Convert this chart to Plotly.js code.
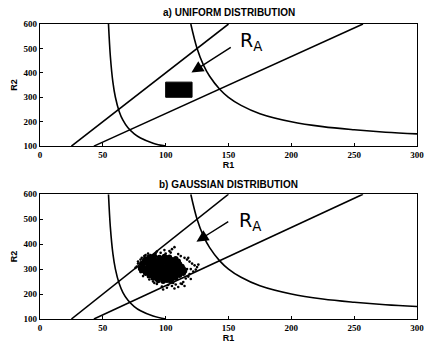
<!DOCTYPE html>
<html>
<head>
<meta charset="utf-8">
<script src="https://cdn.plot.ly/plotly-3.0.1.min.js"></script>
<style>html,body{margin:0;padding:0;background:#fff;}#chart{width:427px;height:343px;}</style>
</head>
<body>
<div id="chart"></div>
<script>
// Boundary lines (R2 = k*R1), endpoints
var line1R1 = [25, 150];
var line1R2 = [100, 600];
var line2R1 = [42.9, 257];
var line2R2 = [100, 600];

// Hyperbolic boundaries, points
var curve1R1 = [54.5, 56, 58, 60, 63, 66, 70, 75, 80, 90, 100];
var curve1R2 = [600, 467, 362, 300, 242, 206, 175, 150, 133, 112, 100];
var curve2R1 = [120, 125, 130, 135, 143, 150, 160, 175, 200, 225, 250, 275, 300];
var curve2R2 = [600, 500, 433, 386, 333, 300, 267, 233, 200, 180, 167, 157, 150];

// Uniform distribution region
var uniformR1 = [100, 121];
var uniformR2 = [300, 362];

// Gaussian distribution samples: dense core
var gaussCoreR1 = [
 87,91,95,99,103,
 84,88,91,95,98,101,105,108,
 83,86,89,93,96,100,103,106,110,
 81,85,88,91,94,97,101,104,107,111,
 82,86,89,92,95,98,101,104,107,110,113,
 80,84,87,90,93,96,99,102,105,108,111,114,
 81,85,88,91,94,97,100,103,106,109,112,115,
 84,87,90,93,96,99,102,105,108,111,114,
 87,90,93,96,99,102,105,108,111,
 90,93,96,99,102,105,108,
 94,98,101,104
];
var gaussCoreR2 = [
 348,351,346,350,347,
 340,343,338,342,339,344,337,341,
 332,329,334,330,333,328,332,329,331,
 322,325,320,324,321,326,322,319,324,320,
 314,311,316,312,315,310,314,311,316,312,310,
 304,301,306,302,305,300,304,301,305,302,306,301,
 294,291,296,292,295,290,294,291,296,292,295,292,
 284,281,286,282,285,280,284,281,286,282,283,
 274,271,276,272,275,270,274,271,275,
 264,261,266,262,265,260,264,
 254,251,255,252
];
// sparse outliers around the core
var gaussOuterR1 = [77,78,79,76,81,83,80,84,86,88,92,96,100,103,105,107,104,110,112,115,117,119,121,123,125,120,122,119,118,116,114,112,108,105,101,97,93,90,87,98,110,113,124,118,86,80,82,115,107,120,126,93,99,78,84,91,106,102,117];
var gaussOuterR2 = [310,322,298,305,345,352,288,278,268,356,362,365,362,372,380,388,366,360,352,345,338,330,322,315,308,300,290,280,270,262,248,242,238,232,225,230,240,250,258,218,228,240,298,345,362,338,272,232,222,260,318,370,376,330,356,244,244,236,300];

var xTicks = [0, 50, 100, 150, 200, 250, 300];
var yTicks = [100, 200, 300, 400, 500, 600];
var titles = ['a) UNIFORM DISTRIBUTION', 'b) GAUSSIAN DISTRIBUTION'];

var lineStyle = {color: '#000', width: 1.6};
function boundaryTraces(xa, ya) {
  return [
    {x: line1R1, y: line1R2, mode: 'lines', line: lineStyle, xaxis: xa, yaxis: ya},
    {x: line2R1, y: line2R2, mode: 'lines', line: lineStyle, xaxis: xa, yaxis: ya},
    {x: curve1R1, y: curve1R2, mode: 'lines', line: Object.assign({shape: 'spline'}, lineStyle), xaxis: xa, yaxis: ya},
    {x: curve2R1, y: curve2R2, mode: 'lines', line: Object.assign({shape: 'spline'}, lineStyle), xaxis: xa, yaxis: ya}
  ];
}

var rectX = [uniformR1[0], uniformR1[1], uniformR1[1], uniformR1[0], uniformR1[0]];
var rectY = [uniformR2[0], uniformR2[0], uniformR2[1], uniformR2[1], uniformR2[0]];

var data = boundaryTraces('x', 'y').concat([
  {x: rectX, y: rectY, mode: 'lines', fill: 'toself', fillcolor: '#000', line: {color: '#000', width: 1}, xaxis: 'x', yaxis: 'y'}
]).concat(boundaryTraces('x2', 'y2')).concat([
  {x: gaussCoreR1, y: gaussCoreR2, mode: 'markers', marker: {color: '#000', size: 5.5}, xaxis: 'x2', yaxis: 'y2'},
  {x: gaussOuterR1, y: gaussOuterR2, mode: 'markers', marker: {color: '#000', size: 2.6}, xaxis: 'x2', yaxis: 'y2'}
]);

var tickFont = {family: 'Liberation Serif, Times New Roman, serif', size: 9, color: '#000', weight: 'bold'};
var labFont = {family: 'Liberation Sans, Arial, sans-serif', size: 9, color: '#000', weight: 'bold'};
function xAx(anchor) {
  return {anchor: anchor, domain: [0, 1], range: [0, 300], tickvals: xTicks, ticktext: xTicks.map(String),
    ticks: 'inside', ticklen: 3, tickcolor: '#000', showgrid: false, zeroline: false,
    showline: true, mirror: true, linecolor: '#000', linewidth: 1.2, tickfont: tickFont,
    title: {text: 'R1', font: labFont, standoff: 0}};
}
function yAx(anchor, dom) {
  return {anchor: anchor, domain: dom, range: [100, 600], tickvals: yTicks, ticktext: yTicks.map(String),
    ticks: 'inside', ticklen: 3, tickcolor: '#000', showgrid: false, zeroline: false,
    showline: true, mirror: true, linecolor: '#000', linewidth: 1.2, tickfont: tickFont,
    title: {text: 'R2', font: labFont, standoff: 4}};
}

var annFont = {family: 'DejaVu Sans, sans-serif', size: 19, color: '#000'};
var titleFont = {family: 'Liberation Sans Narrow, Liberation Sans, Arial, sans-serif', size: 10, color: '#000', weight: 'bold'};
var layout = {
  width: 427, height: 343,
  margin: {l: 40, r: 10, t: 24, b: 24},
  showlegend: false,
  paper_bgcolor: '#fff', plot_bgcolor: '#fff',
  xaxis: xAx('y'), yaxis: yAx('x', [0.586, 1]),
  xaxis2: xAx('y2'), yaxis2: yAx('x2', [0, 0.423]),
  annotations: [
    {text: titles[0], xref: 'paper', yref: 'paper', x: 0.5, y: 1.04, yanchor: 'middle', showarrow: false, font: titleFont},
    {text: titles[1], xref: 'paper', yref: 'paper', x: 0.5, y: 0.4576, yanchor: 'middle', showarrow: false, font: titleFont},
    {text: '', xref: 'x', yref: 'y', axref: 'x', ayref: 'y', x: 120.5, y: 401, ax: 153, ay: 508,
     showarrow: true, arrowhead: 2, arrowsize: 1.7, arrowwidth: 1.4, arrowcolor: '#000'},
    {text: 'R<sub>A</sub>', xref: 'x', yref: 'y', x: 168, y: 527, showarrow: false, font: annFont},
    {text: '', xref: 'x2', yref: 'y2', axref: 'x2', ayref: 'y2', x: 124.5, y: 410, ax: 151, ay: 494,
     showarrow: true, arrowhead: 2, arrowsize: 1.7, arrowwidth: 1.4, arrowcolor: '#000'},
    {text: 'R<sub>A</sub>', xref: 'x2', yref: 'y2', x: 167, y: 489, showarrow: false, font: annFont}
  ]
};

Plotly.newPlot('chart', data, layout, {staticPlot: true, displayModeBar: false});
</script>
</body>
</html>
